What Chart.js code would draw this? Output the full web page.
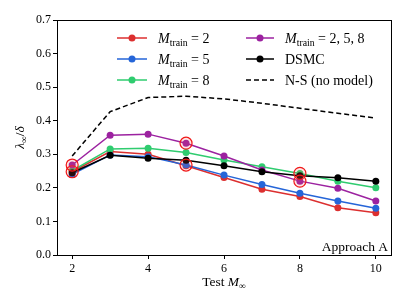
<!DOCTYPE html>
<html>
<head>
<meta charset="utf-8">
<script src="https://cdn.jsdelivr.net/npm/chart.js@4.4.1/dist/chart.umd.min.js"></script>
<style>
  html, body { margin: 0; padding: 0; background: #fff; }
</style>
</head>
<body>
<canvas id="c" width="407" height="305"></canvas>
<script>
// data
const machTest = [2, 3, 4, 5, 6, 7, 8, 9, 10];
const lamTrain2   = [0.248, 0.308, 0.300, 0.266, 0.231, 0.196, 0.174, 0.141, 0.126];
const lamTrain5   = [0.240, 0.298, 0.293, 0.268, 0.238, 0.210, 0.184, 0.161, 0.139];
const lamTrain8   = [0.251, 0.316, 0.318, 0.305, 0.283, 0.263, 0.243, 0.220, 0.200];
const lamTrain258 = [0.268, 0.357, 0.360, 0.333, 0.295, 0.253, 0.220, 0.199, 0.161];
const lamDSMC     = [0.245, 0.297, 0.288, 0.282, 0.266, 0.248, 0.236, 0.230, 0.220];
const lamNS       = [0.295, 0.427, 0.469, 0.473, 0.465, 0.452, 0.437, 0.422, 0.408];
// training Mach numbers (circled points)
const train2 = [2], train5 = [5], train8 = [8], train258 = [2, 5, 8];
const xTicks = [2, 4, 6, 8, 10];
const yTicks = [0, 0.1, 0.2, 0.3, 0.4, 0.5, 0.6, 0.7];

const SERIF = '"Liberation Serif", "DejaVu Serif", serif';
const RED = "#dc2f2f", BLUE = "#2565d8", GREEN = "#2fcc6f", PURPLE = "#9c22a0";

const pts = (ys) => machTest.map((m, i) => ({ x: m, y: ys[i] }));
const pick = (ms, ys) => ms.map(m => ({ x: m, y: ys[machTest.indexOf(m)] }));

function series(ys, color, order, parts){
  return {
    data: pts(ys), borderColor: color, backgroundColor: color,
    borderWidth: 1.5, pointRadius: 3.5, pointBorderWidth: 0,
    order, labelParts: parts
  };
}
const mtrain = (rest) => [{t:"M", it:true}, {t:"train", sub:true}, {t:rest}];

const datasets = [
  series(lamTrain2, RED, 6, mtrain(" = 2")),
  series(lamTrain5, BLUE, 5, mtrain(" = 5")),
  series(lamTrain8, GREEN, 4, mtrain(" = 8")),
  series(lamTrain258, PURPLE, 3, mtrain(" = 2, 5, 8")),
  series(lamDSMC, "#000", 2, [{t:"DSMC"}]),
  { data: pts(lamNS), borderColor: "#000", borderWidth: 1.5, borderDash: [5, 3],
    pointRadius: 0, order: 1, labelParts: [{t:"N-S (no model)"}], dashed: true },
  { data: [...pick(train2, lamTrain2), ...pick(train5, lamTrain5), ...pick(train8, lamTrain8), ...pick(train258, lamTrain258)],
    showLine: false, pointRadius: 6, pointBorderWidth: 1.2, pointBorderColor: "#f01818",
    pointBackgroundColor: "rgba(255,80,80,0.15)", order: 0 }
];

function partsWidth(ctx, parts, size){
  let w = 0;
  for (const p of parts){
    ctx.font = (p.it ? "italic " : "") + (p.sub ? size*0.7 : size) + "px " + SERIF;
    w += ctx.measureText(p.t).width;
  }
  return w;
}
function drawParts(ctx, parts, x, y, size){
  let cx = x;
  for (const p of parts){
    ctx.font = (p.it ? "italic " : "") + (p.sub ? size*0.7 : size) + "px " + SERIF;
    ctx.fillText(p.t, cx, p.sub ? y + size*0.22 : y);
    cx += ctx.measureText(p.t).width;
  }
}

const decor = {
  id: "decor",
  afterDraw(chart){
    const ctx = chart.ctx, a = chart.chartArea;
    ctx.save();
    ctx.strokeStyle = "#000"; ctx.lineWidth = 1;
    ctx.strokeRect(Math.round(a.left) + 0.5, Math.round(a.top) + 0.5, Math.round(a.right - a.left), Math.round(a.bottom - a.top));
    ctx.fillStyle = "#000"; ctx.textBaseline = "alphabetic"; ctx.textAlign = "left";

    // legend
    const cols = [[0, 1, 2], [3, 4, 5]];
    const colX = [{ l0: 117, l1: 147, tx: 158 }, { l0: 246, l1: 274, tx: 285 }];
    const rowY = [38, 59, 80];
    cols.forEach((col, ci) => col.forEach((di, ri) => {
      const ds = chart.data.datasets[di], c = colX[ci], y = rowY[ri];
      ctx.strokeStyle = ds.borderColor; ctx.lineWidth = 1.5;
      ctx.setLineDash(ds.dashed ? [5, 3] : []);
      ctx.beginPath(); ctx.moveTo(c.l0, y); ctx.lineTo(c.l1, y); ctx.stroke();
      ctx.setLineDash([]);
      if (!ds.dashed){
        ctx.fillStyle = ds.backgroundColor;
        ctx.beginPath(); ctx.arc((c.l0 + c.l1) / 2, y, 3.5, 0, Math.PI * 2); ctx.fill();
      }
      ctx.fillStyle = "#000";
      drawParts(ctx, ds.labelParts, c.tx, y + 4.5, 14);
    }));

    // annotation
    ctx.font = "13.5px " + SERIF; ctx.textAlign = "right";
    ctx.fillText("Approach A", a.right - 3, a.bottom - 4);
    ctx.textAlign = "left";

    // x label
    const xl = [{t:"Test "}, {t:"M", it:true}, {t:"\u221E", sub:true}];
    const xw = partsWidth(ctx, xl, 13.5);
    drawParts(ctx, xl, (a.left + a.right) / 2 - xw / 2, 286, 13.5);

    // y label
    const yl = [{t:"\u03BB", it:true}, {t:"\u221E", sub:true}, {t:"/"}, {t:"\u03B4", it:true}];
    const yw = partsWidth(ctx, yl, 13.5);
    ctx.translate(24, (a.top + a.bottom) / 2); ctx.rotate(-Math.PI / 2);
    drawParts(ctx, yl, -yw / 2, 0, 13.5);
    ctx.restore();
  }
};

new Chart(document.getElementById("c"), {
  type: "line",
  data: { datasets },
  options: {
    responsive: false, animation: false,
    layout: { padding: { top: 20, right: 16, left: 0, bottom: 0 } },
    plugins: { legend: { display: false }, tooltip: { enabled: false } },
    scales: {
      x: {
        type: "linear", min: 1.6, max: 10.4,
        afterBuildTicks: s => { s.ticks = xTicks.map(v => ({ value: v })); },
        afterFit: s => { s.height = 50; },
        grid: { drawOnChartArea: false, drawTicks: true, tickLength: 4, color: "#000" },
        border: { display: true, color: "#000", width: 1 },
        ticks: { color: "#000", padding: 3, font: { family: SERIF, size: 12 }, maxRotation: 0, callback: v => String(v) }
      },
      y: {
        min: 0, max: 0.7,
        afterBuildTicks: s => { s.ticks = yTicks.map(v => ({ value: v })); },
        afterFit: s => { s.width = 57; },
        grid: { drawOnChartArea: false, drawTicks: true, tickLength: 4, color: "#000" },
        border: { display: true, color: "#000", width: 1 },
        ticks: { color: "#000", padding: 2, font: { family: SERIF, size: 12 }, callback: v => v.toFixed(1) }
      }
    }
  },
  plugins: [decor]
});
</script>
</body>
</html>
